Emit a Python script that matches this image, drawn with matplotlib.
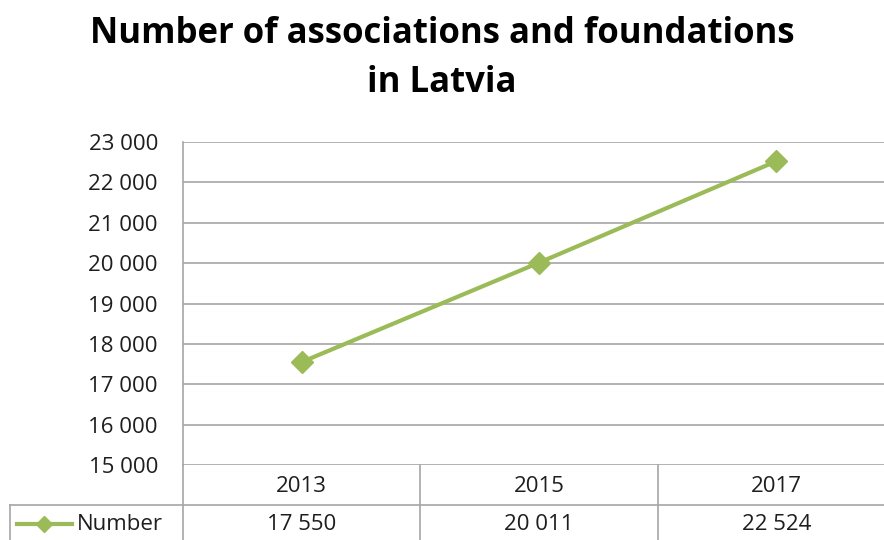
import matplotlib.pyplot as plt
from matplotlib.lines import Line2D

# Дані
years = ["2013", "2015", "2017"]
values = [17550, 20011, 22524]
value_labels = ["17 550", "20 011", "22 524"]
series_name = "Number"
y_ticks = [15000, 16000, 17000, 18000, 19000, 20000, 21000, 22000, 23000]

W, H = 884, 540
GREEN = "#9BBB59"
GRID = "#A6A6A6"
FONT = "Open Sans"
TXT = "#1E1E1E"


def fx(px):
    return px / W


def fy(py):
    return 1 - py / H


fig = plt.figure(figsize=(W / 100, H / 100), dpi=100)
plt.rcParams["font.family"] = [FONT, "DejaVu Sans"]

# Область графіка (права межа виходить за край картинки, як в оригіналі)
left, right, top, bottom = 183, 895, 142, 465
ax = fig.add_axes([fx(left), fy(bottom), fx(right - left), (bottom - top) / H])

x = list(range(len(years)))
ax.plot(x, values, color=GREEN, lw=3, marker="D", ms=11, zorder=3)
ax.set_xlim(-0.5, len(years) - 0.5)
ax.set_ylim(15000, 23000)
ax.set_yticks(y_ticks)
ax.set_yticklabels([f"{v:,}".replace(",", " ") for v in y_ticks], fontsize=16, color=TXT)
ax.set_xticks([])
ax.tick_params(axis="y", length=0, pad=18)
ax.grid(axis="y", color=GRID, lw=1.2)
for s in ["top", "right", "bottom"]:
    ax.spines[s].set_visible(False)
ax.spines["left"].set_color(GRID)
ax.spines["left"].set_linewidth(1.2)

# Таблиця даних під графіком
def hline(y, x0, x1):
    fig.add_artist(Line2D([fx(x0), fx(x1)], [fy(y), fy(y)], color=GRID, lw=1.2))


def vline(xp, y0, y1):
    fig.add_artist(Line2D([fx(xp), fx(xp)], [fy(y0), fy(y1)], color=GRID, lw=1.2))


row1 = 505
hline(row1, 10, W)
vline(left, bottom, H)
vline(10, row1, H)
col_w = (right - left) / len(years)
for i in range(1, len(years)):
    vline(left + i * col_w, bottom, H)

for i, (yr, lab) in enumerate(zip(years, value_labels)):
    cx = left + (i + 0.5) * col_w
    fig.text(fx(cx), fy(486), yr, ha="center", va="center", fontsize=16, color=TXT)
    fig.text(fx(cx), fy(524), lab, ha="center", va="center", fontsize=16, color=TXT)

# Ключ легенди в таблиці
fig.add_artist(Line2D([fx(17), fx(72)], [fy(524), fy(524)], color=GREEN, lw=3))
fig.add_artist(Line2D([fx(44)], [fy(524)], color=GREEN, marker="D", ms=8, lw=0))
fig.text(fx(77), fy(524), series_name, ha="left", va="center", fontsize=16, color=TXT)

# Заголовок
fig.text(0.5, fy(34), "Number of associations and foundations", ha="center", va="center",
         fontsize=25, fontweight="bold")
fig.text(0.5, fy(83), "in Latvia", ha="center", va="center", fontsize=25, fontweight="bold")

fig.savefig("out.png", dpi=100, facecolor="white")
